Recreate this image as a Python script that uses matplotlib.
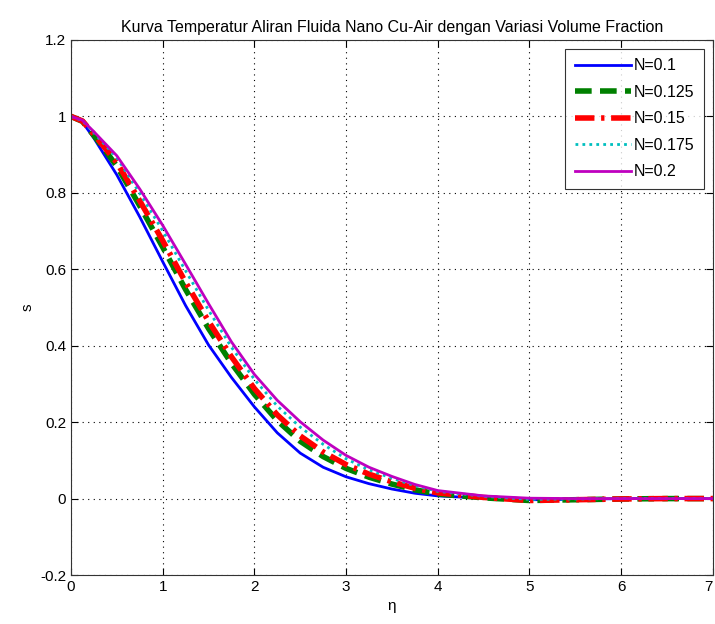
import matplotlib
matplotlib.use("Agg")
import matplotlib.pyplot as plt

eta = [0, 0.125, 0.25, 0.5, 0.75, 1.0, 1.25, 1.5, 1.75, 2.0, 2.25, 2.5, 2.75, 3.0,
       3.25, 3.5, 3.75, 4.0, 4.5, 5.0, 5.5, 6.0, 6.5, 7.0]

s_01 = [1.0, 0.985, 0.943, 0.847, 0.737, 0.62, 0.505, 0.402, 0.317, 0.24, 0.172, 0.119,
        0.082, 0.057, 0.039, 0.025, 0.014, 0.007, 0.001, -0.003, -0.002, 0.0, 0.0, 0.0]
s_0125 = [1.0, 0.987, 0.95, 0.87, 0.766, 0.658, 0.547, 0.445, 0.354, 0.273, 0.204, 0.15,
          0.11, 0.079, 0.056, 0.038, 0.023, 0.012, 0.002, -0.005, -0.003, -0.001, 0.0, 0.0]
s_015 = [1.0, 0.988, 0.953, 0.879, 0.779, 0.675, 0.566, 0.464, 0.371, 0.288, 0.219, 0.164,
         0.122, 0.089, 0.064, 0.044, 0.027, 0.015, 0.003, -0.005, -0.003, -0.001, 0.0, 0.0]
s_0175 = [1.0, 0.989, 0.957, 0.892, 0.799, 0.701, 0.596, 0.493, 0.396, 0.312, 0.242, 0.187,
          0.142, 0.104, 0.075, 0.053, 0.034, 0.019, 0.006, -0.002, -0.001, 0.0, 0.0, 0.0]
s_02 = [1.0, 0.99, 0.96, 0.897, 0.81, 0.715, 0.613, 0.51, 0.41, 0.325, 0.257, 0.201,
        0.153, 0.113, 0.082, 0.058, 0.037, 0.021, 0.007, 0.001, 0.0, 0.0, 0.0, 0.0]

labels = ["N=0.1", "N=0.125", "N=0.15", "N=0.175", "N=0.2"]

plt.rcParams["font.family"] = ["Liberation Sans", "DejaVu Sans"]

fig = plt.figure(figsize=(7.15, 6.24), dpi=100)
ax = fig.add_axes([0.0993, 0.0785, 0.8977, 0.8574])

ax.plot(eta, s_01, color="#0000ff", lw=2, ls="-", label=labels[0])
ax.plot(eta, s_0125, color="#008000", lw=4, ls=(0, (3, 1.5)), label=labels[1])
ax.plot(eta, s_015, color="#ff0000", lw=4, ls=(0, (3.5, 1.2, 0.6, 1.2)), label=labels[2])
ax.plot(eta, s_0175, color="#00bfbf", lw=2, ls=(0, (1, 1.5)), label=labels[3])
ax.plot(eta, s_02, color="#bf00bf", lw=2, ls="-", label=labels[4])

ax.set_xlim(0, 7)
ax.set_ylim(-0.2, 1.2)
ax.set_xticks(range(0, 8))
ax.set_yticks([-0.2, 0, 0.2, 0.4, 0.6, 0.8, 1.0, 1.2])
ax.set_yticklabels(["-0.2", "0", "0.2", "0.4", "0.6", "0.8", "1", "1.2"])
ax.grid(True, color="black", ls=(0, (1, 4)), lw=0.8)
ax.tick_params(direction="in", top=True, right=True, labelsize=11, length=5)
for sp in ax.spines.values():
    sp.set_color("#333333")
ax.get_xticklabels()[-1].set_ha("right")

ax.set_title("Kurva Temperatur Aliran Fluida Nano Cu-Air dengan Variasi Volume Fraction",
             fontsize=11.5, pad=6)
ax.set_xlabel("\u03b7", fontsize=11)
ax.set_ylabel("s", fontsize=11)

leg = ax.legend(loc="upper right", fontsize=11.5, frameon=True, fancybox=False,
                edgecolor="black", handlelength=3.5, borderaxespad=0.55,
                labelspacing=0.72, handletextpad=0.2, borderpad=0.6)
leg.get_frame().set_linewidth(0.8)

fig.savefig("out.png", dpi=100)
